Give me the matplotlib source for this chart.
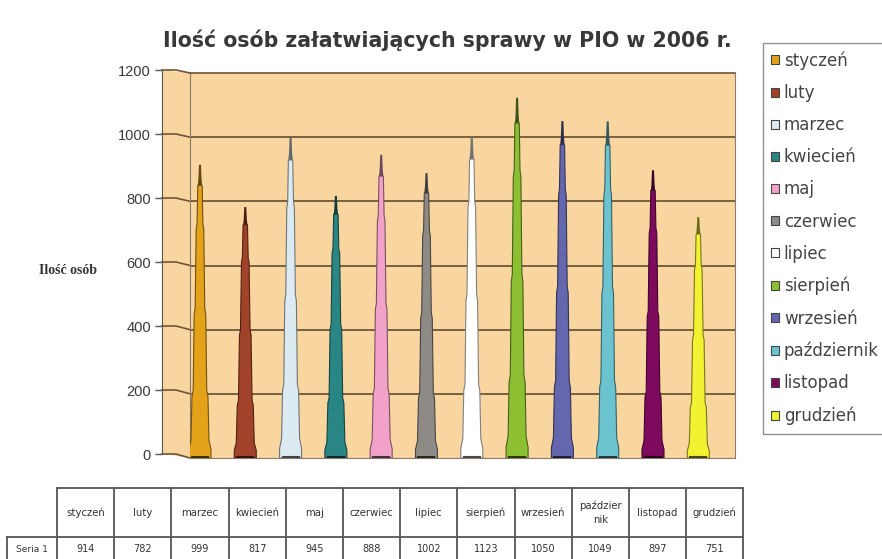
import matplotlib
matplotlib.use("Agg")
import matplotlib.pyplot as plt
from matplotlib.patches import Patch, Polygon
import numpy as np

months = ["styczeń", "luty", "marzec", "kwiecień", "maj", "czerwiec",
          "lipiec", "sierpień", "wrzesień", "październik", "listopad", "grudzień"]
table_header = ["styczeń", "luty", "marzec", "kwiecień", "maj", "czerwiec",
                "lipiec", "sierpień", "wrzesień", "paździer\nnik", "listopad", "grudzień"]
values = [914, 782, 999, 817, 945, 888, 1002, 1123, 1050, 1049, 897, 751]
series_name = "Seria 1"
colors = ["#E3A21A", "#A0432A", "#DCEBF2", "#2A8585", "#F2A2C8", "#8E8A86",
          "#FFFFFF", "#8CBF32", "#6466AE", "#6CC3D0", "#7E0A5E", "#F2F233"]
yticks = [0, 200, 400, 600, 800, 1000, 1200]
title = "Ilość osób załatwiających sprawy w PIO w 2006 r."
ylabel = "Ilość osób"

W, H = 882, 559
fig = plt.figure(figsize=(W / 100, H / 100), dpi=100)
fig.patch.set_facecolor("white")

wall_col = "#F9D6A0"
grid_col = "#6E5637"

# decoration overlay in pixel coords
deco = fig.add_axes([0, 0, 1, 1])
deco.set_xlim(0, W)
deco.set_ylim(H, 0)
deco.axis("off")
deco.set_zorder(0)
deco.patch.set_alpha(0)

# wall axes
x_l, x_r, y_t, y_b = 190, 735, 73, 458
ax = fig.add_axes([x_l / W, 1 - y_b / H, (x_r - x_l) / W, (y_b - y_t) / H])
ax.set_zorder(2)
ax.set_facecolor(wall_col)
ax.set_ylim(0, 1200)
ax.set_xlim(-0.22, 11.81)
ax.set_xticks([])
ax.set_yticks([])
for s in ax.spines.values():
    s.set_color("#8a7a6a")
    s.set_linewidth(0.8)
ax.spines["top"].set_color(grid_col)
ax.spines["top"].set_linewidth(1.2)
for v in yticks[1:-1]:
    ax.axhline(v, color=grid_col, lw=1.3, zorder=1)

# left axis
a_x, a_t, a_b = 162, 70, 454
axl = fig.add_axes([a_x / W, 1 - a_b / H, 0.0005, (a_b - a_t) / H])
axl.set_zorder(3)
axl.patch.set_alpha(0)
axl.set_ylim(0, 1200)
axl.set_xticks([])
axl.set_yticks(yticks)
axl.set_yticklabels([str(t) for t in yticks], fontsize=10.5, color="#3a3a3a",
                    family="Liberation Sans")
for k in ["top", "right", "bottom"]:
    axl.spines[k].set_visible(False)
axl.spines["left"].set_color("#555555")
axl.tick_params(axis="y", length=5, width=1, color="#555555", pad=3)

# side wall
deco.add_patch(Polygon([(a_x, a_t), (x_l, y_t), (x_l, y_b), (a_x, a_b)],
                       closed=True, facecolor=wall_col, edgecolor="none"))
px_ax = (a_b - a_t) / 1200.0
px_wall = (y_b - y_t) / 1200.0
for v in yticks:
    ya = a_b - v * px_ax
    yw = y_b - v * px_wall
    deco.plot([a_x, a_x + 14, x_l], [ya, ya, yw], color=grid_col, lw=1.2)

# bars (stepped cones)
upp = (11.81 + 0.22) / (x_r - x_l)  # data units per pixel
profile = [(0.0, 11.0), (0.03, 11.0), (0.06, 9.0), (0.21, 8.0), (0.23, 6.8),
           (0.49, 5.8), (0.51, 4.8), (0.78, 3.8), (0.80, 2.9), (0.93, 2.2)]
tip = [(0.93, 2.2), (0.95, 1.6), (1.0, 1.0)]


def darker(c, f=0.55):
    rgb = np.array(matplotlib.colors.to_rgb(c))
    return tuple(rgb * f)


for i, (v, c) in enumerate(zip(values, colors)):
    left = [(i - hw * upp, f * v) for f, hw in profile]
    right = [(i + hw * upp, f * v) for f, hw in reversed(profile)]
    ax.add_patch(Polygon(left + right, closed=True, facecolor=c,
                         edgecolor=darker(c, 0.5), lw=0.8, zorder=3))
    tl = [(i - hw * upp, f * v) for f, hw in tip]
    tr = [(i + hw * upp, f * v) for f, hw in reversed(tip)]
    ax.add_patch(Polygon(tl + tr, closed=True, facecolor=darker(c, 0.45),
                         edgecolor="none", zorder=3))
    ax.plot([i - 9 * upp, i + 9 * upp], [4, 4], color=darker(c, 0.3), lw=1.5,
            zorder=4, solid_capstyle="butt")

# title and y label
fig.text(447 / W, 1 - 40 / H, title, ha="center", va="center", fontsize=14.8,
         fontweight="bold", color="#383838", family="DejaVu Sans")
fig.text(68 / W, 1 - 270 / H, ylabel, ha="center", va="center", fontsize=10,
         fontweight="bold", color="#333333", family="Liberation Serif")

# legend
handles = [Patch(facecolor=c, edgecolor="#444444", lw=0.8) for c in colors]
leg = fig.legend(handles, months, loc="upper left",
                 bbox_to_anchor=(763 / W, 1 - 43 / H), bbox_transform=fig.transFigure,
                 frameon=True, fancybox=False, edgecolor="#777777", fontsize=12,
                 handlelength=0.45, handleheight=0.45, handletextpad=0.3,
                 labelspacing=0.85, borderpad=0.5, borderaxespad=0)
for t in leg.get_texts():
    t.set_color("#444444")
leg.get_frame().set_linewidth(1.0)

# data table
cx0, cw = 57, 57.2
ty0, ty1, ty2 = 488, 537, 575
n = len(months)
tcol = "#555555"
deco.plot([cx0, cx0 + n * cw], [ty0, ty0], color=tcol, lw=1.3)
deco.plot([7, cx0 + n * cw], [ty1, ty1], color=tcol, lw=1.3)
deco.plot([7, 7], [ty1, ty2], color=tcol, lw=1.3)
for j in range(n + 1):
    deco.plot([cx0 + j * cw] * 2, [ty0, ty2], color=tcol, lw=1.3)
for j, (hd, v) in enumerate(zip(table_header, values)):
    xc = cx0 + (j + 0.5) * cw
    deco.text(xc, (ty0 + ty1) / 2, hd, ha="center", va="center", fontsize=7.3,
              color="#333333", linespacing=1.5)
    deco.text(xc, 549, str(v), ha="center", va="center", fontsize=7,
              color="#333333")
deco.text((7 + cx0) / 2, 549, series_name, ha="center", va="center", fontsize=6.5,
          color="#333333")

fig.savefig("out.png", dpi=100)
